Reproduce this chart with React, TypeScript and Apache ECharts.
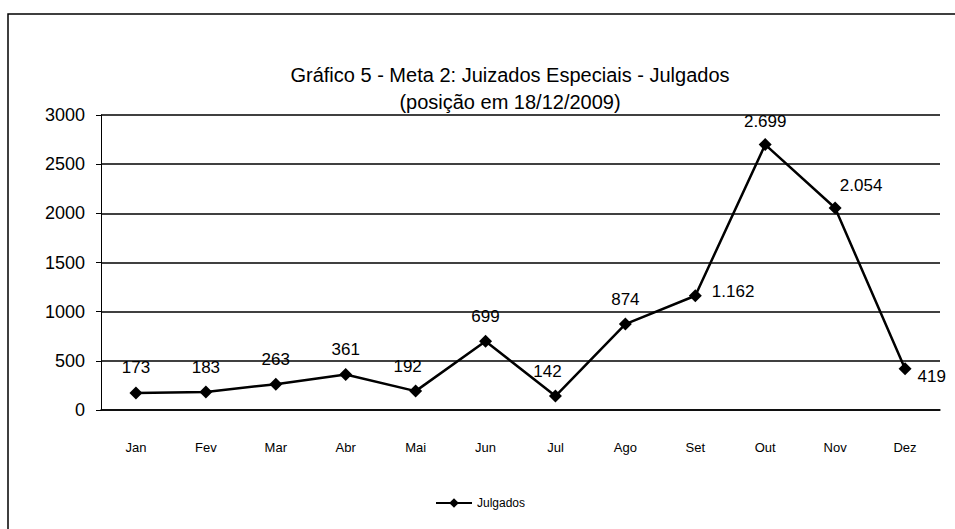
import React, { useEffect, useRef } from "react";
import * as echarts from "echarts";

const months = ["Jan", "Fev", "Mar", "Abr", "Mai", "Jun", "Jul", "Ago", "Set", "Out", "Nov", "Dez"];
const julgados = [173, 183, 263, 361, 192, 699, 142, 874, 1162, 2699, 2054, 419];
const yTicks = { min: 0, max: 3000, interval: 500 };
const titleLines = ["Gráfico 5 - Meta 2: Juizados Especiais - Julgados", "(posição em 18/12/2009)"];
const seriesName = "Julgados";

const fmt = (v: number) => {
  if (v >= 1000) {
    const t = Math.floor(v / 1000);
    const r = String(v % 1000).padStart(3, "0");
    return t + "." + r;
  }
  return String(v);
};

const FONT = "'Liberation Sans', Arial, sans-serif";

export default function App() {
  const ref = useRef<HTMLDivElement>(null);
  useEffect(() => {
    if (!ref.current) return;
    const chart = echarts.init(ref.current, null, { renderer: "svg" });
    const labelPos: Record<number, any> = {
      8: { position: "right", distance: 10, offset: [0, -4] },
      9: { position: "top", distance: 8 },
      10: { position: "top", distance: 8, offset: [26, 0] },
      11: { position: "right", distance: 4, offset: [2, 8] },
      4: { position: "top", distance: 10, offset: [-8, 0] },
      6: { position: "top", distance: 10, offset: [-8, 0] },
    };
    const data = julgados.map((v, i) => ({
      value: v,
      label: labelPos[i] ? { ...labelPos[i] } : undefined,
    }));
    chart.setOption({
      animation: false,
      backgroundColor: "#ffffff",
      title: {
        text: titleLines.join("\n"),
        left: 505,
        textAlign: "center",
        top: 56,
        textStyle: { fontFamily: FONT, fontSize: 20, fontWeight: "normal", color: "#000", lineHeight: 27 },
      },
      graphic: [
        {
          type: "rect",
          shape: { x: 8, y: 14, width: 970, height: 540 },
          style: { fill: "none", stroke: "#000", lineWidth: 1.5 },
          silent: true,
        },
      ],
      legend: {
        data: [seriesName],
        top: 492,
        left: 430,
        itemWidth: 36,
        itemHeight: 12,
        itemGap: 6,
        textStyle: { fontFamily: FONT, fontSize: 12, color: "#000" },
      },
      grid: { left: 101, right: 15, top: 115, bottom: 119, containLabel: false },
      xAxis: {
        type: "category",
        data: months,
        boundaryGap: true,
        axisLine: { lineStyle: { color: "#000", width: 1.5 } },
        axisTick: { show: false },
        axisLabel: { fontFamily: FONT, fontSize: 13, color: "#000", margin: 31 },
      },
      yAxis: {
        type: "value",
        min: yTicks.min,
        max: yTicks.max,
        interval: yTicks.interval,
        axisLine: { show: true, lineStyle: { color: "#000", width: 1 } },
        axisTick: { show: true, length: 5, lineStyle: { color: "#000" } },
        splitLine: { lineStyle: { color: "#000", width: 1.5 } },
        axisLabel: { fontFamily: FONT, fontSize: 18, color: "#000", margin: 16, formatter: (v: number) => String(v) },
      },
      series: [
        {
          name: seriesName,
          type: "line",
          data,
          symbol: "diamond",
          symbolSize: 13,
          lineStyle: { color: "#000", width: 2.5 },
          itemStyle: { color: "#000" },
          label: {
            show: true,
            position: "top",
            distance: 10,
            fontFamily: FONT,
            fontSize: 17,
            color: "#000",
            formatter: (p: any) => fmt(p.value),
          },
        },
      ],
    });
    return () => chart.dispose();
  }, []);
  return <div ref={ref} style={{ position: "fixed", left: 0, top: 0, width: 955, height: 529 }} />;
}
